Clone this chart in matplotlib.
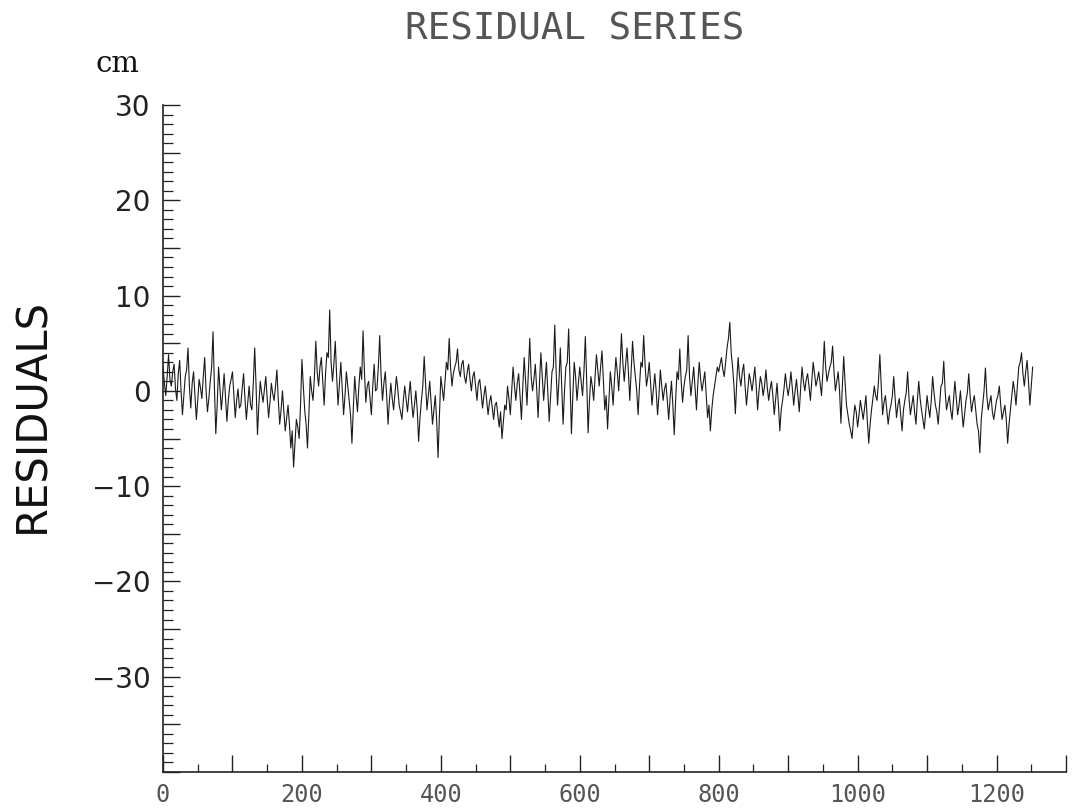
import numpy as np
import matplotlib.pyplot as plt

# ---------------------------------------------------------------------
# Residual series (cm), one value every 2 samples
# ---------------------------------------------------------------------
sample_step = 2
residuals = [
    # 0 - 98
    2.5, 0.8, -0.5, 1.5, 3.8, 1.2, 0.5, 2.0, 2.8, 0.2, -1.0, 1.8, 3.2, 0.0,
    -2.5, -0.5, 1.5, 2.2, 4.5, 0.5, -1.8, 0.8, 2.0, -0.5, -3.0, -1.0, 1.2,
    0.3, -0.8, 1.5, 3.5, 0.0, -2.2, -0.8, 1.0, 2.5, 6.2, 0.5, -4.5, -1.5,
    2.5, 0.2, -2.0, -0.2, 1.8, -0.8, -3.2, -1.0, 0.5, 1.2,
    # 100 - 198
    2.0, -0.5, -2.8, -1.0, 0.2, -1.8, -1.5, 0.3, 1.8, -0.8, -3.0, -1.2, 0.5,
    -1.5, -2.0, 0.8, 4.5, 0.5, -4.6, -1.5, 1.0, -0.2, -1.2, 0.2, 1.5, -0.8,
    -2.8, -1.2, 0.8, -0.3, -1.0, 0.5, 2.2, -1.0, -3.5, -2.0, 0.0, -2.2, -4.2,
    -2.8, -1.5, -3.5, -6.0, -4.2, -8.0, -5.5, -3.0, -3.8, -5.0, -1.5,
    # 200 - 298
    3.3, 0.5, -2.0, -3.5, -6.0, -2.5, 1.5, 0.0, -1.0, 1.5, 5.2, 2.0, 0.5,
    2.5, 3.5, 1.0, -1.5, 1.8, 4.0, 3.5, 8.5, 3.0, 1.0, 2.8, 5.2, 1.5, -1.5,
    0.8, 3.0, 0.2, -2.5, -0.5, 2.0, 0.5, -1.0, -2.5, -5.5, -1.8, 1.5, -0.5,
    -2.2, 0.5, 2.5, 1.2, 6.3, 2.0, -1.2, 0.5, 1.0, -0.8,
    # 300 - 398
    -2.5, 0.5, 2.8, 0.0, 0.2, 2.5, 5.8, 1.5, -1.0, 0.8, 2.0, -0.5, -3.5,
    -1.0, 0.8, -0.8, -2.0, -0.2, 1.5, 0.2, -1.5, -2.2, -3.0, -1.0, 0.5, -0.8,
    -2.2, -0.5, 1.0, -1.2, -2.8, -1.5, 0.0, -2.0, -5.3, -2.8, -1.0, 0.5, 3.6,
    0.8, -2.0, -0.5, 1.0, -1.2, -3.5, -2.0, -0.5, -3.2, -7.0, -2.5,
    # 400 - 498
    1.5, 0.2, -1.0, 1.0, 3.0, 2.2, 5.5, 2.5, 0.5, 1.8, 2.5, 3.0, 4.4, 2.2,
    1.5, 2.8, 3.2, 1.5, 0.8, 2.0, 2.8, 1.2, 0.0, 1.5, 2.0, 0.5, -1.0, 0.8,
    1.2, -0.2, -1.8, -0.5, 0.5, -1.0, -2.5, -1.2, -0.5, -1.8, -3.0, -1.5,
    -1.2, -2.5, -3.8, -2.2, -5.0, -3.2, -1.5, -2.0, 0.5, -0.8,
    # 500 - 598
    -2.5, 0.0, 2.5, 0.5, -1.0, 0.8, 1.8, -0.5, -3.0, 0.5, 3.5, 1.0, -1.5,
    2.0, 5.5, 1.5, 0.0, 1.2, 2.8, 0.2, -2.8, 0.8, 4.0, 1.5, -1.0, 1.0, 3.0,
    0.0, -3.2, -0.5, 2.0, 2.5, 6.9, 2.0, -1.5, 1.0, 4.5, 0.5, -3.5, 0.0, 2.5,
    3.0, 6.5, 1.0, -4.5, -0.5, 3.0, 1.5, -1.0, 0.8,
    # 600 - 698
    2.5, 1.0, -0.5, 2.0, 5.7, 1.0, -4.4, -1.0, 1.5, 0.5, -1.0, 1.5, 3.8, 2.2,
    0.5, 2.5, 4.2, 1.0, -2.0, -0.5, -4.0, -1.0, 2.0, 0.5, -1.5, 1.2, 3.5,
    2.0, 0.0, 2.5, 6.0, 3.0, 1.0, 2.8, 4.5, 2.0, -1.0, 2.2, 5.2, 3.0, 1.5,
    0.0, -2.5, 0.5, 3.0, 2.5, 5.8, 2.8, 0.5, 1.5,
    # 700 - 798
    3.0, 0.8, -1.5, 0.2, 1.8, 0.0, -2.5, -0.5, 2.2, 0.5, -1.0, 0.2, 0.8,
    -1.0, -3.0, -0.8, 1.0, -1.5, -4.6, -1.0, 2.0, 1.2, 4.4, 1.0, -1.2, 0.5,
    1.5, 2.2, 5.8, 1.5, -0.5, 1.0, 2.5, 0.2, -2.0, 0.8, 3.0, 1.2, 0.0, 1.0,
    2.0, -0.5, -2.8, -1.5, -4.2, -2.0, -0.5, 0.5, 1.5, 2.5,
    # 800 - 898
    2.0, 2.8, 3.5, 2.2, 1.5, 3.0, 4.5, 5.5, 7.2, 4.0, 2.5, 0.5, -2.4, 1.0,
    3.5, 1.5, 0.5, 2.0, 2.8, 0.5, -1.5, 0.2, 1.8, 1.0, 0.0, 1.2, 2.5, 0.5,
    -2.0, 0.0, 1.5, 0.8, -0.5, 0.5, 2.2, 0.3, -1.0, 0.2, 1.0, -0.5, -2.5,
    -0.8, 0.8, -1.5, -4.2, -2.0, -1.0, 0.2, 1.8, 0.5,
    # 900 - 998
    -0.5, 0.5, 2.0, 0.2, -1.5, 0.0, 1.2, -0.5, -2.2, 0.3, 2.5, 1.0, 0.0, 1.2,
    1.8, 0.5, -1.0, 1.0, 3.0, 1.8, 0.5, 1.2, 2.0, 0.8, -0.5, 2.0, 5.2, 2.5,
    1.0, 1.8, 2.5, 3.0, 4.7, 2.0, 0.0, 1.0, 2.0, 0.0, -3.4, 0.5, 3.6, 0.8,
    -1.5, -2.5, -3.5, -4.2, -5.0, -3.0, -1.5, -2.2,
    # 1000 - 1098
    -3.8, -2.5, -1.0, -2.0, -3.0, -1.8, -0.5, -3.2, -5.5, -3.5, -2.0, -0.8,
    0.5, -0.5, -1.0, 1.0, 3.8, 0.5, -2.5, -1.2, -0.5, -2.0, -3.5, -2.2, -1.5,
    -0.5, 1.5, -0.8, -2.8, -1.5, -0.8, -2.5, -4.2, -2.0, -1.0, -0.2, 2.0,
    -0.8, -2.5, -1.5, -0.5, -2.2, -3.5, -1.0, 1.0, -0.8, -2.0, -3.0, -4.0,
    -2.2,
    # 1100 - 1198
    -0.5, -1.8, -2.8, -1.0, 1.5, -0.2, -1.5, -2.2, -3.5, -1.5, 0.5, 0.8, 3.1,
    0.0, -2.0, -1.2, -0.5, -2.0, -3.0, -1.0, 1.0, -0.8, -2.5, -1.5, 0.0,
    -2.0, -3.8, -2.5, -1.0, -0.2, 1.8, -0.5, -2.2, -1.2, -0.5, -2.0, -3.5,
    -4.2, -6.5, -3.0, -1.5, 0.0, 2.4, -0.5, -2.0, -1.2, -0.5, -2.2, -3.0,
    -2.0,
    # 1200 - 1252
    -1.0, -0.5, 0.5, -1.5, -3.0, -2.2, -1.5, -3.0, -5.5, -3.5, -2.0, -0.5,
    1.0, 0.0, -1.5, 0.5, 2.5, 3.0, 4.0, 1.8, 0.5, 2.0, 3.2, 1.0, -1.5, 0.5,
    2.5,
]
samples = np.arange(len(residuals)) * sample_step

y_ticks = np.arange(-40, 31, 5)
y_tick_labels = {-30: "\u221230", -20: "\u221220", -10: "\u221210",
                 0: "0", 10: "10", 20: "20", 30: "30"}
x_ticks = np.arange(0, 1301, 100)
x_label_values = [0, 200, 400, 600, 800, 1000, 1200]

# ---------------------------------------------------------------------
# Plot
# ---------------------------------------------------------------------
fig = plt.figure(figsize=(10.77, 8.09), dpi=100)
ax = fig.add_axes([163 / 1077, 1 - 772 / 809, (1066 - 163) / 1077, (772 - 105) / 809])

ax.plot(samples, residuals, color="#1a1a1a", lw=0.8)

ax.set_xlim(0, 1300)
ax.set_ylim(-40, 30)

for side in ("top", "right"):
    ax.spines[side].set_visible(False)
for side in ("left", "bottom"):
    ax.spines[side].set_linewidth(1.2)
    ax.spines[side].set_color("#222222")

# y axis: long ticks every 5, short every 1, all pointing inward
ax.set_yticks(y_ticks)
ax.set_yticklabels([y_tick_labels.get(int(v), "") for v in y_ticks])
ax.set_yticks(np.arange(-40, 31, 1), minor=True)
ax.tick_params(axis="y", which="major", direction="in", length=12, width=1.0,
               pad=9, labelsize=20, colors="#222222")
ax.tick_params(axis="y", which="minor", direction="in", length=7, width=0.9,
               color="#222222")

# x axis: tall ticks every 100, short every 50, labels every 200
ax.set_xticks(x_ticks)
ax.set_xticklabels([str(v) if v in x_label_values else "" for v in x_ticks],
                   family="DejaVu Sans Mono", color="#555555")
ax.set_xticks(np.arange(0, 1301, 50), minor=True)
ax.tick_params(axis="x", which="major", direction="in", length=12, width=1.0,
               pad=8, labelsize=17, color="#222222")
ax.tick_params(axis="x", which="minor", direction="in", length=6, width=0.9,
               color="#222222")

fig.text(575 / 1077, 1 - 30 / 809, "RESIDUAL SERIES", ha="center", va="center",
         family="DejaVu Sans Mono", fontsize=27, color="#555555")
fig.text(117 / 1077, 1 - 64 / 809, "cm", ha="center", va="center",
         family="DejaVu Serif", fontsize=21, color="#111111")
fig.text(32 / 1077, 1 - 415 / 809, "RESIDUALS", ha="center", va="center",
         rotation=90, fontsize=30, color="#111111")

fig.savefig("out.png", dpi=100)
